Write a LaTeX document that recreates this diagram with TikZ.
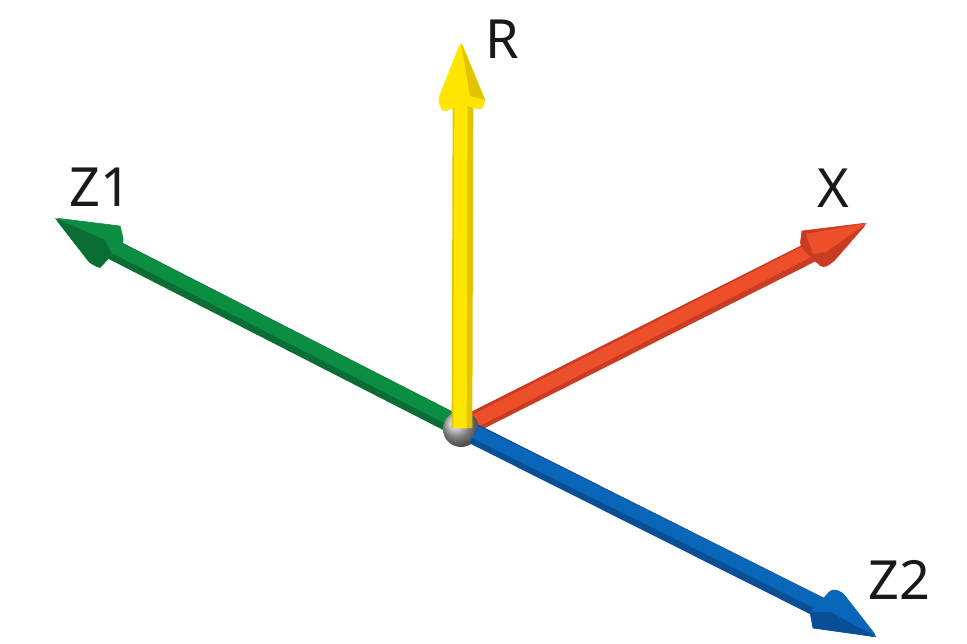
\documentclass[tikz,border=0pt]{standalone}
\usepackage{fontspec}
\setmainfont{Noto Sans}
\definecolor{yelA}{HTML}{FFE600}\definecolor{yelB}{HTML}{E3C400}
\definecolor{redA}{HTML}{EE4F2B}\definecolor{redB}{HTML}{C93C22}
\definecolor{grnA}{HTML}{0B8E42}\definecolor{grnB}{HTML}{0A6E34}
\definecolor{bluA}{HTML}{0A66B8}\definecolor{bluB}{HTML}{0A4E96}
\tikzset{
  shaftout/.style={line width=15.5pt,draw=#1},
  shaftin/.style={line width=10pt,draw=#1},
  headfill/.style={fill=#1,draw=#1,line width=0.5pt,rounded corners=3pt},
  facet/.style={fill=#1},
  lab/.style={inner sep=0pt,font=\fontsize{40.5}{40.5}\selectfont,text=black!90}
}
\begin{document}
\begin{tikzpicture}[x=0.75pt,y=-0.75pt]
\useasboundingbox (0,0) rectangle (967,643);
% hub and axis ends
\coordinate (o) at (462,428);
\coordinate (rb) at (463,100);
\coordinate (xb) at (815,250);
\coordinate (gb) at (108,247);
\coordinate (bb) at (825,610);
% red
\draw[shaftout=redB] (o) -- (xb);
\draw[shaftin=redA] ([shift={(3,-2)}]o) -- ([shift={(1,-3)}]xb);
\fill[headfill=redB,sharp corners] (867,223) -- (802,231) [rounded corners=3pt] -- (800,246) -- (812,258) -- (823,268) -- (833,262) -- cycle;
\fill[facet=redA] (867,223) -- (806,234) -- (813,254) -- (826,252) -- cycle;
% green
\draw[shaftout=grnB] (o) -- (gb);
\draw[shaftin=grnA] ([shift={(1,-3)}]o) -- ([shift={(1,-3)}]gb);
\fill[headfill=grnA,sharp corners] (55,218) -- (120,226) [rounded corners=3pt] -- (124,242) -- (112,254) -- (100,268) -- (90,263) -- cycle;
\fill[facet=grnB] (55,218) -- (105,240) -- (112,254) -- (100,268) -- (90,263) -- cycle;
% ball
\shade[ball color=black!30] (461,429) circle (18);
% yellow
\draw[shaftout=yelB] (o) -- (rb);
\draw[shaftin=yelA] ([shift={(-2,0)}]o) -- ([shift={(-2,0)}]rb);
\fill[headfill=yelA,sharp corners] (461,42) -- (485,100) [rounded corners=3pt] -- (482,110) -- (462,104) -- (443,112) -- (438,100) -- cycle;
\fill[facet=yelB] (461,42) -- (485,100) -- (470,96) -- cycle;
% blue
\draw[shaftout=bluB] ([shift={(12,6)}]o) -- (bb);
\draw[shaftin=bluA] ([shift={(13,4)}]o) -- ([shift={(2,-3)}]bb);
\fill[headfill=bluA,sharp corners] (877,637) -- (813,628) [rounded corners=3pt] -- (810,612) -- (822,600) -- (832,589) -- (842,592) -- cycle;
\fill[facet=bluB] (877,637) -- (813,628) -- (810,612) -- (830,612) -- cycle;
% labels
\node[lab] (lr) at (502,39) {R};
\node[lab] (lx) at (833,188) {X};
\node[lab] (lg) at (100,187) {Z1};
\node[lab] (lb) at (899,580) {Z2};
\end{tikzpicture}
\end{document}
